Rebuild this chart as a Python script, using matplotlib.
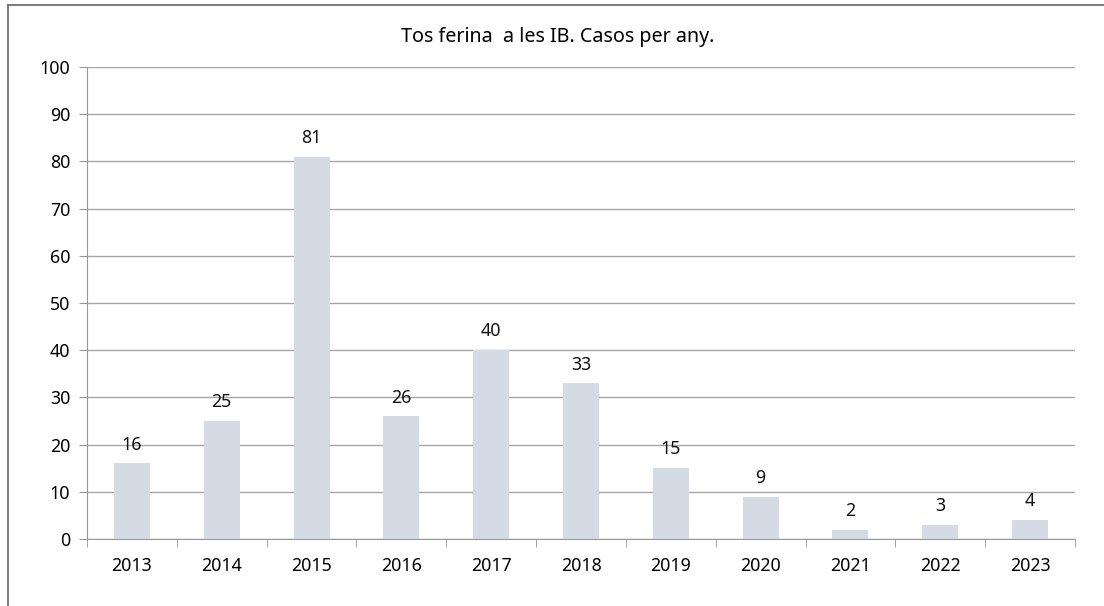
import numpy as np
from matplotlib import pyplot as plt

plt.rcParams['font.family'] = ['Noto Sans', 'DejaVu Sans']

years = ["2013", "2014", "2015", "2016", "2017", "2018", "2019", "2020", "2021", "2022", "2023"]
cases = [16, 25, 81, 26, 40, 33, 15, 9, 2, 3, 4]
y_ticks = [0, 10, 20, 30, 40, 50, 60, 70, 80, 90, 100]

fig = plt.figure(figsize=(11.04, 6.06), dpi=100)
ax = fig.add_axes([87 / 1104, 1 - 539 / 606, (1075 - 87) / 1104, (539 - 67) / 606])

x = np.arange(len(years))
ax.bar(x, cases, width=0.4, color="#d5dbe5", zorder=2)

# etiquetes de valor
for xi, v in zip(x, cases):
    ax.annotate(str(v), (xi, v), xytext=(0, 7), textcoords="offset points",
                ha="center", va="bottom", fontsize=12.8, color="#111111")

ax.set_xlim(-0.5, len(years) - 0.5)
ax.set_ylim(0, 100)
ax.set_yticks(y_ticks)
ax.set_xticks(x)
ax.set_xticklabels(years)
ax.set_xticks(np.arange(len(years) + 1) - 0.5, minor=True)
ax.tick_params(axis="x", which="major", length=0, pad=13, labelsize=12.8)
ax.tick_params(axis="x", which="minor", length=6, color="#999999")
ax.tick_params(axis="y", length=6, color="#999999", labelsize=12.8, pad=6)

ax.grid(axis="y", color="#a6a6a6", linewidth=1, zorder=0)
for s in ["top", "right"]:
    ax.spines[s].set_visible(False)
ax.spines["left"].set_color("#999999")
ax.spines["bottom"].set_color("#999999")

fig.text(558 / 1104, 1 - 37 / 606, "Tos ferina  a les IB. Casos per any.", ha="center", va="center", fontsize=14.2)

# vora del gràfic (esquerra i dalt)
fig.add_artist(plt.Line2D([8 / 1104, 8 / 1104], [0, 1 - 5 / 606], color="#666666", linewidth=1.2))
fig.add_artist(plt.Line2D([8 / 1104, 1], [1 - 5 / 606, 1 - 5 / 606], color="#666666", linewidth=1.2))

fig.savefig("out.png", dpi=100)
